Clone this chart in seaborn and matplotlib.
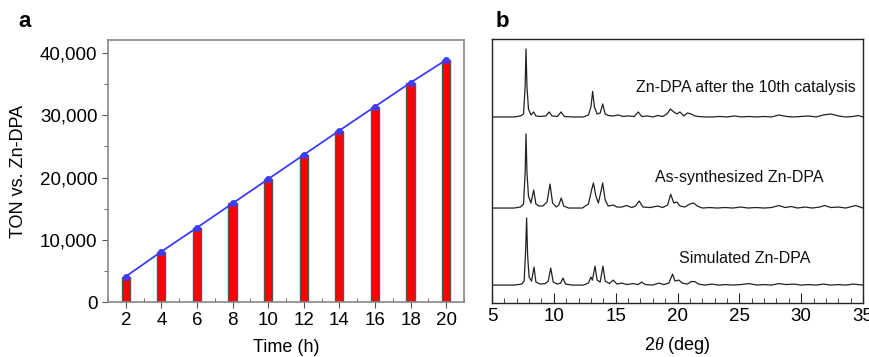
import matplotlib
matplotlib.use('Agg')
import matplotlib.pyplot as plt
import matplotlib.ticker as mticker
import seaborn as sns
import pandas as pd
import numpy as np

# panel a: TON vs time
hours = [2, 4, 6, 8, 10, 12, 14, 16, 18, 20]
ton = [4100, 8100, 11950, 15850, 19750, 23650, 27550, 31400, 35250, 38900]

after_cat = [(5.0, 0), (6.8, 0), (7.3, 1), (7.55, 3), (7.68, 30), (7.75, 68), (7.83, 30),
             (7.95, 8), (8.15, 2), (8.37, 5), (8.55, 1), (8.9, 0.5), (9.35, 1), (9.63, 5),
             (9.85, 1), (10.3, 0.5), (10.58, 5), (10.85, 0.5), (11.5, 0), (12.4, 0),
             (12.8, 2), (13.0, 10), (13.14, 25.6), (13.28, 10), (13.5, 3), (13.75, 4),
             (13.95, 13), (14.15, 3), (14.4, 1.5), (14.8, 1), (15.2, 2), (15.6, 0.5),
             (16.0, 1), (16.5, 0.5), (16.83, 5), (17.1, 0.5), (17.6, 1), (18.0, 0),
             (18.4, 1.5), (18.8, 0.5), (19.15, 3), (19.42, 8), (19.7, 5), (19.95, 3),
             (20.2, 5), (20.5, 1), (20.8, 4), (21.1, 3), (21.4, 1), (21.7, 0.5), (22.2, 0),
             (22.8, 0), (23.4, 0.5), (24.0, 0), (24.6, 1), (25.2, 0), (25.8, 0.5), (26.4, 0),
             (27.0, 0.5), (27.6, 0), (28.2, 2), (28.8, 0.5), (29.4, 0), (30.0, 0.5),
             (30.6, 1), (31.2, 0), (31.8, 2), (32.4, 3), (33.0, 1), (33.6, 0), (34.2, 0.5),
             (34.6, 1.5), (35.0, 0)]
as_synth = [(5.0, 0), (6.8, 0), (7.3, 1), (7.55, 4), (7.68, 35), (7.75, 74), (7.83, 35),
            (7.95, 12), (8.15, 5), (8.37, 18), (8.55, 4), (8.8, 2), (9.1, 2), (9.45, 6),
            (9.69, 24), (9.9, 5), (10.2, 1), (10.4, 3), (10.6, 10), (10.8, 2), (11.2, 0),
            (12.3, 0), (12.8, 4), (13.05, 18), (13.2, 25), (13.4, 12), (13.6, 5),
            (13.8, 16), (13.95, 25), (14.15, 8), (14.4, 2), (14.8, 3), (15.1, 1),
            (15.5, 1), (15.9, 2.5), (16.3, 0.5), (16.6, 2), (16.9, 7), (17.2, 1),
            (17.8, 0.5), (18.4, 2), (18.8, 0.5), (19.2, 3), (19.45, 13.7), (19.7, 5),
            (19.95, 6), (20.2, 2), (20.6, 1), (21.0, 4), (21.3, 5), (21.6, 2), (22.0, 0),
            (22.6, 0.5), (23.2, 0), (23.8, 0.5), (24.5, 0), (25.1, 1), (25.7, 0),
            (26.3, 0.5), (27.0, 0), (27.6, 0.5), (28.2, 2.5), (28.7, 0.5), (29.2, 1.5),
            (29.7, 0), (30.3, 1), (30.9, 0), (31.5, 1), (31.9, 2.5), (32.4, 0.5),
            (33.0, 1), (33.6, 0), (34.4, 2.5), (35.0, 0)]
simulated = [(5.0, 0), (6.8, 0), (7.4, 1), (7.6, 4), (7.72, 35), (7.8, 67), (7.88, 30),
             (8.0, 8), (8.2, 4), (8.4, 18), (8.55, 3), (8.9, 1), (9.3, 1.5), (9.55, 4),
             (9.75, 17), (9.95, 3), (10.3, 1), (10.55, 2), (10.74, 7), (10.95, 1),
             (11.5, 0), (12.4, 0), (12.8, 2), (13.0, 8), (13.12, 5), (13.33, 19),
             (13.5, 5), (13.75, 3), (13.97, 19), (14.15, 4), (14.5, 1.5), (14.8, 5),
             (15.1, 1), (15.5, 2), (15.9, 0.5), (16.4, 1.5), (16.8, 0.5), (17.1, 3),
             (17.4, 0.5), (18.0, 0), (18.5, 2), (18.9, 0.5), (19.3, 2), (19.6, 11),
             (19.8, 4), (20.1, 5), (20.4, 2), (20.8, 1), (21.1, 3.5), (21.4, 3.5),
             (21.7, 1), (22.2, 0), (22.8, 1), (23.3, 0), (23.9, 0.5), (24.5, 0),
             (25.1, 0.5), (25.8, 1.5), (26.4, 0), (27.0, 0.5), (27.6, 0), (28.2, 1.5),
             (28.8, 0.5), (29.4, 1), (30.0, 0), (30.6, 0.5), (31.2, 0), (31.8, 1),
             (32.4, 0), (33.0, 0.5), (33.6, 0), (34.2, 1), (35.0, 0)]
trace_names = ['Zn-DPA after the 10th catalysis', 'As-synthesized Zn-DPA', 'Simulated Zn-DPA']
trace_offsets = [186, 95, 18]
label_pos = [(25.5, 215), (25.0, 126), (25.4, 45)]

sns.set_style('ticks')
plt.rcParams['font.family'] = ['Liberation Sans', 'DejaVu Sans']
plt.rcParams['text.color'] = 'black'
plt.rcParams['axes.labelcolor'] = 'black'
plt.rcParams['xtick.labelcolor'] = 'black'
plt.rcParams['ytick.labelcolor'] = 'black'
plt.rcParams['mathtext.fontset'] = 'custom'
plt.rcParams['mathtext.it'] = 'Liberation Serif:italic'
plt.rcParams['mathtext.rm'] = 'Liberation Sans'

fig = plt.figure(figsize=(8.7, 3.57), dpi=100)
ax1 = fig.add_axes([0.1241, 0.154, 0.4092, 0.734])
ax2 = fig.add_axes([0.5655, 0.151, 0.4265, 0.740])

# ---- panel a
df_a = pd.DataFrame({'time': hours, 'ton': ton})
sns.barplot(data=df_a, x='time', y='ton', native_scale=True, width=0.23,
            color='#ff0000', saturation=1, edgecolor='#555555', linewidth=1, ax=ax1)
sns.lineplot(data=df_a, x='time', y='ton', color='#3c3cff', lw=1.3, marker='o',
             markersize=5, markeredgewidth=0, ax=ax1)
ax1.set_xlim(1, 21)
ax1.set_ylim(0, 42100)
ax1.set_xticks(hours)
ax1.xaxis.set_minor_locator(mticker.MultipleLocator(1))
ax1.yaxis.set_major_locator(mticker.MultipleLocator(10000))
ax1.yaxis.set_minor_locator(mticker.MultipleLocator(5000))
ax1.yaxis.set_major_formatter(mticker.StrMethodFormatter('{x:,.0f}'))
ax1.tick_params(axis='both', which='major', labelsize=13.5, length=4, color='#555555')
ax1.tick_params(axis='y', which='minor', length=3, color='#555555', direction='out')
ax1.tick_params(axis='x', which='minor', length=3, color='#555555', direction='in')
for s in ax1.spines.values():
    s.set_color('#888888')
    s.set_linewidth(1.2)
ax1.set_xlabel('Time (h)', fontsize=13, labelpad=7)
ax1.set_ylabel('TON vs. Zn-DPA', fontsize=13, labelpad=9)

# ---- panel b
for name, trace, off, (lx, ly) in zip(trace_names, [after_cat, as_synth, simulated],
                                      trace_offsets, label_pos):
    d = pd.DataFrame(trace, columns=['two_theta', 'inten'])
    d['inten'] = d['inten'] + off
    sns.lineplot(data=d, x='two_theta', y='inten', color='#222222', lw=0.9,
                 sort=False, ax=ax2)
    ax2.text(lx, ly, name, ha='center', va='center', fontsize=11.5, color='#111111')
ax2.set_xlim(5, 35)
ax2.set_ylim(0, 264)
ax2.set_yticks([])
ax2.xaxis.set_major_locator(mticker.MultipleLocator(5))
ax2.xaxis.set_minor_locator(mticker.MultipleLocator(1))
ax2.tick_params(axis='x', which='major', direction='in', length=7, labelsize=13.5)
ax2.tick_params(axis='x', which='minor', direction='in', length=3.5)
for s in ax2.spines.values():
    s.set_color('#222222')
    s.set_linewidth(1.0)
ax2.set_xlabel(r'2$\theta$ (deg)', fontsize=13, labelpad=7)
ax2.set_ylabel('')

fig.text(0.021, 0.94, 'a', fontsize=16, fontweight='bold', va='center')
fig.text(0.570, 0.94, 'b', fontsize=16, fontweight='bold', va='center')

fig.savefig('out.png', dpi=100)
